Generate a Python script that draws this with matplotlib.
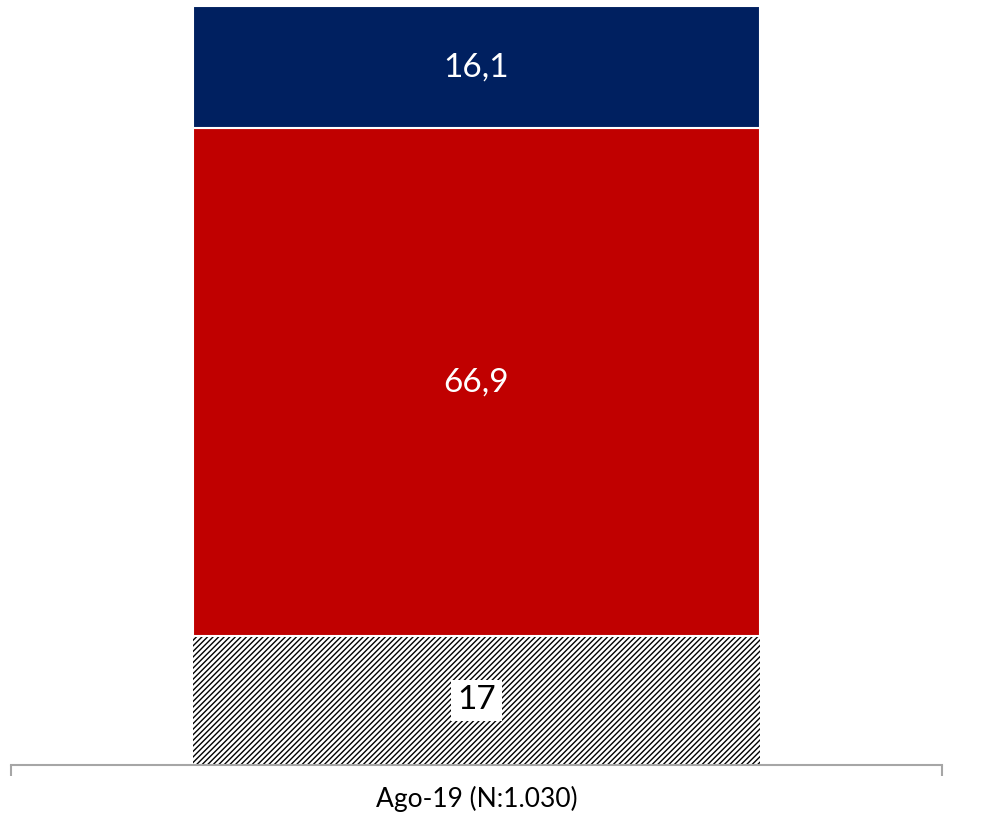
import matplotlib
matplotlib.use('Agg')
import matplotlib.pyplot as plt

plt.rcParams['font.family'] = ['Lato', 'DejaVu Sans']
plt.rcParams['hatch.linewidth'] = 1.0

category = ['Ago-19 (N:1.030)']
# stacked from bottom to top
ns_nc = [17]
red_vals = [66.9]
blue_vals = [16.1]
seg_labels = ['17', '66,9', '16,1']

fig = plt.figure(figsize=(9.89, 8.17), dpi=100)
ax = fig.add_axes([11 / 989, 52 / 817, 931 / 989, 759 / 817])

x = [0]
w = 0.609
b1 = ax.bar(x, ns_nc, width=w, color='white', edgecolor='black', hatch='//////', linewidth=0)
b2 = ax.bar(x, red_vals, width=w, bottom=ns_nc, color='#C00000', edgecolor='white', linewidth=1.5)
bottom3 = [a + b for a, b in zip(ns_nc, red_vals)]
b3 = ax.bar(x, blue_vals, width=w, bottom=bottom3, color='#002060', edgecolor='white', linewidth=1.5)

ax.text(0, ns_nc[0] / 2, seg_labels[0], ha='center', va='center', fontsize=24, color='black',
        bbox=dict(facecolor='white', edgecolor='none', pad=4))
ax.text(0, ns_nc[0] + red_vals[0] / 2, seg_labels[1], ha='center', va='center', fontsize=24, color='white')
ax.text(0, bottom3[0] + blue_vals[0] / 2, seg_labels[2], ha='center', va='center', fontsize=24, color='white')

ax.set_xlim(-0.5, 0.5)
ax.set_ylim(0, 100)
for s in ['top', 'right', 'left']:
    ax.spines[s].set_visible(False)
ax.spines['bottom'].set_color('#a6a6a6')
ax.spines['bottom'].set_linewidth(1.5)
ax.set_yticks([])
ax.set_xticks(x)
ax.set_xticklabels(category, fontsize=19)
ax.tick_params(axis='x', which='major', length=0, pad=15)
ax.set_xticks([-0.5, 0.5], minor=True)
ax.tick_params(axis='x', which='minor', length=8, width=1.5, color='#a6a6a6')

fig.savefig('out.png', dpi=100)
